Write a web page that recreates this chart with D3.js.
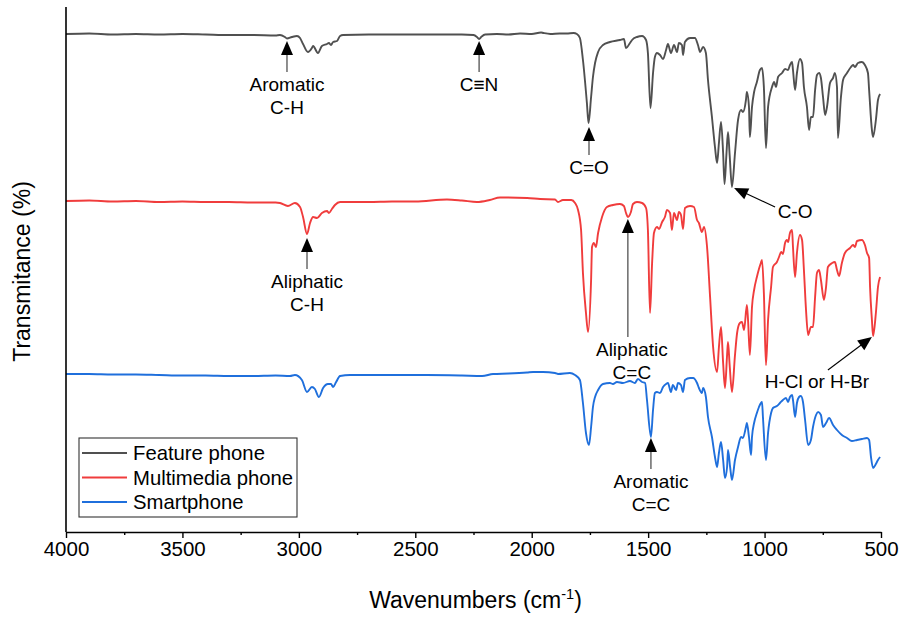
<!DOCTYPE html>
<html>
<head>
<meta charset="utf-8">
<script src="https://cdn.jsdelivr.net/npm/d3@7"></script>
<style>
  html, body { margin: 0; padding: 0; background: #fff; }
  svg { display: block; font-family: "Liberation Sans", Arial, sans-serif; }
</style>
</head>
<body>
<svg id="chart" width="908" height="617"></svg>
<script>
// FTIR spectra of phone casings, stacked with vertical offsets.
// Each point: [wavenumber (cm-1), offset transmittance]
const featurePhone = [
  [4000, 99.6], [3900, 99.7], [3800, 99.5], [3700, 99.6], [3600, 99.5], [3500, 99.6],
  [3400, 99.5], [3300, 99.4], [3200, 99.4], [3100, 99.3], [3081, 99.4], [3060, 99.0],
  [3051, 98.7], [3030, 99.0], [3008, 99.2], [2995, 98.8], [2982, 97.6], [2961, 96.0],
  [2944, 96.8], [2939, 97.2], [2918, 95.8], [2901, 97.2], [2879, 97.6], [2871, 97.8],
  [2862, 97.4], [2853, 98.0], [2836, 98.2], [2823, 99.2], [2810, 99.4], [2700, 99.5],
  [2600, 99.5], [2500, 99.5], [2400, 99.5], [2300, 99.5], [2250, 99.4], [2235, 99.0],
  [2226, 98.6], [2215, 99.1], [2200, 99.5], [2150, 99.6], [2100, 99.5], [2050, 99.7],
  [2000, 99.6], [1960, 99.9], [1950, 99.8], [1920, 99.6], [1880, 99.7], [1850, 99.7],
  [1820, 99.8], [1806, 99.6], [1793, 98.8], [1780, 94.4], [1763, 85.8], [1756, 81.8],
  [1745, 87.0], [1737, 91.0], [1728, 93.8], [1715, 96.0], [1694, 97.4], [1664, 98.0],
  [1621, 98.4], [1604, 98.6], [1595, 96.8], [1578, 97.8], [1569, 98.4], [1548, 99.0],
  [1526, 99.2], [1509, 98.4], [1501, 95.8], [1490, 84.8], [1479, 91.8], [1471, 95.0],
  [1462, 95.8], [1449, 95.4], [1436, 94.6], [1423, 96.4], [1415, 97.6], [1402, 95.8],
  [1389, 97.4], [1376, 96.0], [1368, 97.8], [1355, 97.4], [1350, 95.4], [1342, 98.0],
  [1320, 98.8], [1299, 98.8], [1286, 97.4], [1277, 96.0], [1264, 97.0], [1252, 95.8],
  [1243, 90.4], [1226, 83.0], [1213, 77.0], [1204, 73.8], [1196, 77.8], [1187, 82.0],
  [1178, 75.8], [1172, 69.6], [1164, 75.4], [1157, 80.0], [1150, 75.4], [1140, 69.0],
  [1127, 75.8], [1114, 82.4], [1101, 84.4], [1093, 84.0], [1080, 86.4], [1076, 88.0],
  [1067, 85.0], [1063, 79.0], [1054, 85.0], [1045, 88.0], [1033, 90.0], [1020, 92.4],
  [1011, 92.8], [1003, 89.0], [994, 76.8], [985, 85.0], [968, 89.0], [959, 90.0],
  [951, 89.0], [942, 91.0], [925, 91.8], [912, 92.6], [899, 92.4], [891, 93.4],
  [882, 94.0], [878, 92.4], [869, 88.4], [861, 91.8], [848, 94.6], [839, 93.8],
  [831, 89.0], [818, 85.0], [809, 80.4], [801, 83.0], [792, 83.0], [783, 88.4],
  [775, 91.4], [766, 91.8], [758, 90.8], [749, 87.0], [740, 83.4], [732, 85.0],
  [719, 89.8], [706, 90.8], [698, 91.8], [689, 89.0], [685, 78.8], [672, 87.0],
  [663, 90.4], [646, 91.8], [629, 93.0], [620, 93.4], [612, 93.0], [599, 93.8],
  [582, 94.0], [569, 93.4], [556, 91.8], [551, 88.4], [539, 80.4], [534, 79.0],
  [522, 82.4], [513, 86.4], [504, 87.6]
];

const multimediaPhone = [
  [4000, 66.2], [3900, 66.3], [3800, 66.1], [3700, 66.2], [3600, 66.0], [3500, 66.1],
  [3400, 66.0], [3300, 66.0], [3200, 65.9], [3100, 65.9], [3081, 65.8], [3047, 65.2],
  [3017, 65.8], [2995, 65.0], [2982, 63.0], [2965, 59.6], [2952, 61.8], [2939, 63.0],
  [2922, 62.8], [2901, 63.8], [2879, 64.2], [2871, 63.8], [2858, 64.6], [2845, 65.4],
  [2823, 66.0], [2700, 66.0], [2600, 66.1], [2500, 66.1], [2364, 66.5], [2300, 66.3],
  [2235, 66.0], [2180, 66.4], [2136, 66.9], [2020, 66.8], [1964, 66.6], [1900, 66.5],
  [1887, 66.0], [1866, 66.4], [1830, 66.4], [1814, 65.8], [1801, 64.4], [1788, 60.4],
  [1780, 51.8], [1767, 43.8], [1758, 40.0], [1745, 50.4], [1741, 57.0], [1733, 57.8],
  [1724, 57.0], [1715, 59.8], [1698, 63.0], [1677, 65.0], [1651, 65.4], [1621, 65.6],
  [1604, 65.2], [1595, 63.8], [1587, 63.0], [1574, 64.0], [1565, 65.6], [1548, 66.0],
  [1526, 65.8], [1509, 64.8], [1501, 60.4], [1492, 43.8], [1483, 53.8], [1475, 59.8],
  [1462, 61.0], [1453, 60.6], [1440, 62.0], [1428, 63.0], [1419, 64.4], [1406, 63.8],
  [1398, 60.4], [1389, 63.8], [1376, 62.4], [1368, 64.0], [1359, 63.4], [1350, 60.6],
  [1342, 64.8], [1320, 65.2], [1303, 65.0], [1290, 62.4], [1282, 61.8], [1269, 60.0],
  [1260, 61.0], [1247, 57.0], [1234, 47.0], [1221, 37.0], [1204, 32.0], [1196, 37.0],
  [1187, 41.0], [1178, 33.8], [1170, 28.8], [1161, 35.4], [1157, 38.0], [1150, 33.4],
  [1140, 28.0], [1127, 35.4], [1118, 39.8], [1106, 41.8], [1097, 42.0], [1088, 40.4],
  [1076, 45.4], [1071, 42.4], [1063, 35.4], [1054, 45.0], [1045, 48.4], [1033, 51.0],
  [1016, 53.8], [1011, 54.4], [1003, 47.8], [994, 33.4], [985, 42.4], [972, 49.0],
  [964, 53.0], [947, 54.0], [938, 55.0], [929, 56.0], [921, 55.6], [912, 57.8],
  [904, 58.4], [899, 58.0], [891, 59.8], [882, 60.4], [878, 57.0], [869, 51.0],
  [861, 55.8], [848, 59.4], [839, 58.4], [831, 52.4], [822, 44.4], [813, 39.4],
  [801, 41.0], [792, 41.0], [783, 47.0], [775, 51.8], [766, 52.4], [758, 50.4],
  [745, 46.4], [736, 49.0], [728, 53.0], [710, 53.8], [698, 54.0], [689, 52.4],
  [680, 51.2], [668, 53.8], [655, 55.8], [633, 56.8], [620, 57.4], [612, 57.0],
  [603, 58.2], [582, 58.4], [569, 57.4], [560, 55.8], [551, 54.8], [547, 49.0],
  [539, 42.4], [534, 39.2], [522, 43.8], [513, 49.0], [504, 51.0]
];

const smartphone = [
  [4000, 31.6], [3900, 31.6], [3800, 31.5], [3700, 31.5], [3600, 31.4], [3500, 31.3],
  [3400, 31.3], [3300, 31.2], [3200, 31.2], [3100, 31.3], [3038, 31.2], [3017, 31.4],
  [2987, 30.4], [2965, 28.0], [2944, 29.0], [2931, 28.6], [2914, 27.0], [2896, 28.8],
  [2875, 29.6], [2862, 29.6], [2853, 29.0], [2840, 30.0], [2823, 31.2], [2780, 31.4],
  [2700, 31.4], [2600, 31.4], [2450, 31.4], [2300, 31.3], [2213, 31.2], [2166, 31.6],
  [2100, 31.7], [2020, 31.9], [1994, 32.0], [1952, 32.0], [1900, 31.8], [1887, 31.6],
  [1836, 31.8], [1814, 31.4], [1793, 30.4], [1780, 25.8], [1767, 19.8], [1754, 17.4],
  [1745, 21.0], [1737, 25.0], [1728, 27.0], [1715, 28.4], [1694, 29.6], [1664, 29.8],
  [1651, 29.6], [1634, 30.0], [1608, 29.8], [1578, 30.2], [1557, 29.8], [1544, 30.6],
  [1526, 30.0], [1513, 29.8], [1505, 26.4], [1488, 19.0], [1479, 24.4], [1471, 27.8],
  [1462, 28.0], [1449, 27.8], [1436, 29.0], [1423, 29.6], [1415, 29.8], [1402, 28.0],
  [1394, 29.4], [1380, 28.4], [1372, 29.8], [1359, 29.4], [1350, 28.0], [1342, 30.4],
  [1320, 30.8], [1307, 30.8], [1290, 29.8], [1282, 28.8], [1269, 27.8], [1264, 28.8],
  [1252, 27.0], [1243, 23.0], [1226, 19.0], [1213, 15.0], [1204, 13.0], [1196, 15.8],
  [1187, 18.0], [1178, 14.4], [1170, 10.8], [1161, 13.0], [1157, 16.4], [1148, 13.0],
  [1140, 10.4], [1127, 14.4], [1114, 17.0], [1101, 19.0], [1093, 18.8], [1080, 21.0],
  [1076, 21.8], [1067, 19.0], [1058, 15.4], [1054, 19.0], [1045, 21.8], [1033, 23.8],
  [1024, 25.0], [1011, 26.0], [1007, 23.0], [994, 14.4], [985, 19.8], [972, 23.8],
  [964, 24.8], [947, 25.2], [934, 25.8], [921, 26.4], [908, 26.8], [899, 26.0],
  [891, 27.0], [882, 27.4], [878, 26.4], [869, 23.0], [861, 25.8], [852, 27.0],
  [844, 27.2], [835, 26.0], [826, 22.4], [813, 17.4], [801, 18.4], [792, 21.0],
  [779, 23.4], [770, 24.0], [758, 23.4], [749, 21.0], [736, 21.8], [723, 22.8],
  [706, 21.4], [689, 20.4], [668, 19.4], [646, 18.8], [625, 18.2], [603, 18.4],
  [582, 18.6], [560, 18.8], [551, 18.4], [543, 15.0], [534, 12.8], [522, 13.6],
  [513, 14.4], [504, 15.0]
];

const seriesNames = ["Feature phone", "Multimedia phone", "Smartphone"];
const seriesColors = ["#505050", "#f03c3c", "#1f6fdc"];
const seriesData = [featurePhone, multimediaPhone, smartphone];

const xMajorTicks = [4000, 3500, 3000, 2500, 2000, 1500, 1000, 500];
const xMinorTicks = [3750, 3250, 2750, 2250, 1750, 1250, 750];

// Band assignments: label lines, wavenumber and offset value at the arrow tip
const bandLabels = [
  { lines: ["Aromatic", "C-H"], wn: 3051, val: 98.2, kind: "up" },
  { lines: ["C\u2261N"], wn: 2226, val: 98.2, kind: "up" },
  { lines: ["C=O"], wn: 1754, val: 81.0, kind: "up", stem: 28 },
  { lines: ["C-O"], wn: 1131, val: 68.8, kind: "diag", dx: 41, dy: 19, tx: 61, ty: 23 },
  { lines: ["Aliphatic", "C-H"], wn: 2965, val: 58.8, kind: "up" },
  { lines: ["Aliphatic", "C=C"], wn: 1587, val: 62.6, kind: "up", stem: 118, tdx: 4 },
  { lines: ["H-Cl or H-Br"], wn: 539, val: 39.0, kind: "diag", dx: -44, dy: 33, tx: -55, ty: 44 },
  { lines: ["Aromatic", "C=C"], wn: 1488, val: 18.8, kind: "up" }
];

const W = 908, H = 617;
const margin = { left: 66, right: 27, top: 7, bottom: 85 };
const svg = d3.select("#chart");

const x = d3.scaleLinear().domain([4000, 500]).range([margin.left, W - margin.right]);
const y = d3.scaleLinear().domain([0, 105]).range([H - margin.bottom, margin.top]);
const plotBottom = H - margin.bottom;

// Spectra
const line = d3.line()
  .x(d => x(d[0]))
  .y(d => y(d[1]))
  .curve(d3.curveMonotoneX);

svg.append("g")
  .selectAll("path")
  .data(seriesData)
  .join("path")
  .attr("fill", "none")
  .attr("stroke", (d, i) => seriesColors[i])
  .attr("stroke-width", 1.9)
  .attr("stroke-linejoin", "round")
  .attr("d", d => line([...d].sort((a, b) => b[0] - a[0])));

// Axes
const xAxis = d3.axisBottom(x)
  .tickValues(xMajorTicks)
  .tickFormat(d3.format("d"))
  .tickSizeInner(6)
  .tickSizeOuter(0)
  .tickPadding(3);

const gx = svg.append("g")
  .attr("transform", `translate(0,${plotBottom})`)
  .call(xAxis);
gx.select(".domain").attr("stroke", "#000").attr("stroke-width", 1.6);
gx.selectAll(".tick line").attr("stroke", "#000").attr("stroke-width", 1.4);
gx.selectAll(".tick text")
  .attr("font-size", 20.5)
  .attr("font-family", "'Liberation Sans', Arial, sans-serif")
  .attr("fill", "#000");

const gxMinor = svg.append("g")
  .attr("transform", `translate(0,${plotBottom})`)
  .call(d3.axisBottom(x).tickValues(xMinorTicks).tickFormat("").tickSizeInner(3).tickSizeOuter(0));
gxMinor.select(".domain").remove();
gxMinor.selectAll(".tick line").attr("stroke", "#000").attr("stroke-width", 1.4);

// Left axis line only
svg.append("line")
  .attr("x1", margin.left).attr("x2", margin.left)
  .attr("y1", margin.top).attr("y2", plotBottom)
  .attr("stroke", "#000").attr("stroke-width", 1.6);

// Axis titles
const xTitle = svg.append("text")
  .attr("x", (margin.left + W - margin.right) / 2 + 2)
  .attr("y", 608)
  .attr("text-anchor", "middle")
  .attr("font-size", 23)
  .attr("fill", "#000");
xTitle.append("tspan").text("Wavenumbers (cm");
xTitle.append("tspan").attr("font-size", 14.5).attr("dy", -9).text("-1");
xTitle.append("tspan").attr("dy", 9).text(")");

svg.append("text")
  .attr("transform", `translate(30,${(margin.top + plotBottom) / 2 + 2}) rotate(-90)`)
  .attr("text-anchor", "middle")
  .attr("font-size", 23)
  .attr("fill", "#000")
  .text("Transmitance (%)");

// Band annotations
const ann = svg.append("g");
function arrowHead(g, tipX, tipY, angle) {
  const len = 14, half = 6;
  const pts = [[0, 0], [len, -half], [len, half]].map(([a, b]) => [
    tipX + a * Math.cos(angle) - b * Math.sin(angle),
    tipY + a * Math.sin(angle) + b * Math.cos(angle)
  ]);
  g.append("path").attr("d", "M" + pts.join("L") + "Z").attr("fill", "#000");
}
bandLabels.forEach(b => {
  const tx = x(b.wn), ty = y(b.val);
  const fs = 19, lh = 23;
  if (b.kind === "up") {
    const stem = b.stem || 31;
    ann.append("line")
      .attr("x1", tx).attr("x2", tx)
      .attr("y1", ty + 10).attr("y2", ty + stem)
      .attr("stroke", "#333").attr("stroke-width", 1.1);
    arrowHead(ann, tx, ty, Math.PI / 2);
    b.lines.forEach((t, i) => {
      ann.append("text")
        .attr("x", tx + (b.tdx || 0))
        .attr("y", ty + stem + 19 + i * lh)
        .attr("text-anchor", "middle")
        .attr("font-size", fs)
        .attr("fill", "#000")
        .text(t);
    });
  } else {
    const ang = Math.atan2(b.dy, b.dx);
    ann.append("line")
      .attr("x1", tx + 8 * Math.cos(ang)).attr("y1", ty + 8 * Math.sin(ang))
      .attr("x2", tx + b.dx).attr("y2", ty + b.dy)
      .attr("stroke", "#000").attr("stroke-width", 1.1);
    arrowHead(ann, tx, ty, ang);
    b.lines.forEach((t, i) => {
      ann.append("text")
        .attr("x", tx + b.tx)
        .attr("y", ty + b.ty + 6.5 + i * lh)
        .attr("text-anchor", "middle")
        .attr("font-size", fs)
        .attr("fill", "#000")
        .text(t);
    });
  }
});

// Legend
const legend = svg.append("g").attr("transform", "translate(79,438)");
legend.append("rect")
  .attr("width", 218).attr("height", 79)
  .attr("fill", "#fff").attr("stroke", "#333").attr("stroke-width", 1.1);
seriesNames.forEach((name, i) => {
  const ly = 15 + i * 24.5;
  legend.append("line")
    .attr("x1", 3).attr("x2", 48).attr("y1", ly).attr("y2", ly)
    .attr("stroke", seriesColors[i]).attr("stroke-width", 1.8);
  legend.append("text")
    .attr("x", 54).attr("y", ly + 7)
    .attr("font-size", 20.3).attr("fill", "#000")
    .text(name);
});
</script>
</body>
</html>
